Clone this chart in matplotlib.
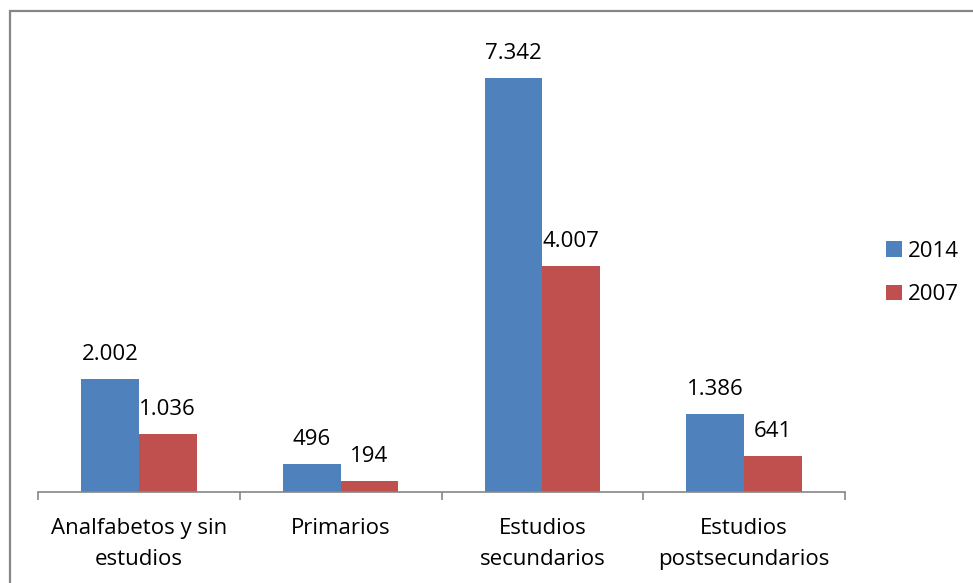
import matplotlib
matplotlib.use("Agg")
import matplotlib.pyplot as plt
from matplotlib.patches import Rectangle
import numpy as np

categories = ["Analfabetos y sin\nestudios", "Primarios", "Estudios\nsecundarios", "Estudios\npostsecundarios"]
series_names = ["2014", "2007"]
values_2014 = [2002, 496, 7342, 1386]
values_2007 = [1036, 194, 4007, 641]
labels_2014 = ["2.002", "496", "7.342", "1.386"]
labels_2007 = ["1.036", "194", "4.007", "641"]
colors = ["#4F81BD", "#C0504D"]

plt.rcParams['font.family'] = ['Open Sans', 'DejaVu Sans']
FS = 16

fig = plt.figure(figsize=(9.73, 5.83), dpi=100)
W, H = 973, 583
ax = fig.add_axes([38 / W, (H - 492) / H, 807 / W, 451 / H])

x = np.arange(len(categories))
bw = 1 / 3.5
b1 = ax.bar(x - bw / 2, values_2014, bw, color=colors[0], label=series_names[0])
b2 = ax.bar(x + bw / 2, values_2007, bw, color=colors[1], label=series_names[1])

for bars, labs in ((b1, labels_2014), (b2, labels_2007)):
    for r, t in zip(bars, labs):
        ax.annotate(t, (r.get_x() + r.get_width() / 2, r.get_height()),
                    xytext=(0, 10), textcoords="offset points",
                    ha="center", va="bottom", fontsize=FS, color="black")

ax.set_xlim(-0.5, len(categories) - 0.5)
ax.set_ylim(0, 8000)
for s in ("top", "right", "left"):
    ax.spines[s].set_visible(False)
ax.spines["bottom"].set_color("#868686")
ax.spines["bottom"].set_linewidth(1.2)
ax.set_yticks([])
ax.set_xticks(x)
ax.set_xticklabels(categories, fontsize=FS, linespacing=1.6)
ax.tick_params(axis="x", which="major", length=0, pad=19)
ax.set_xticks(np.arange(-0.5, len(categories)), minor=True)
ax.tick_params(axis="x", which="minor", length=6, width=1.2, color="#868686", direction="out")

leg = fig.legend(handles=[b1, b2], labels=series_names, loc="center left",
                 bbox_to_anchor=(866 / W, 1 - 273 / H), frameon=False,
                 fontsize=16, handlelength=0.7, handleheight=0.7,
                 handletextpad=0.3, labelspacing=1.0)

fig.patches.append(Rectangle((10 / W, -0.05), 1.1, (H - 11) / H + 0.05,
                             transform=fig.transFigure, fill=False,
                             edgecolor="#868686", linewidth=1.6, figure=fig))

fig.savefig("out.png", dpi=100)
